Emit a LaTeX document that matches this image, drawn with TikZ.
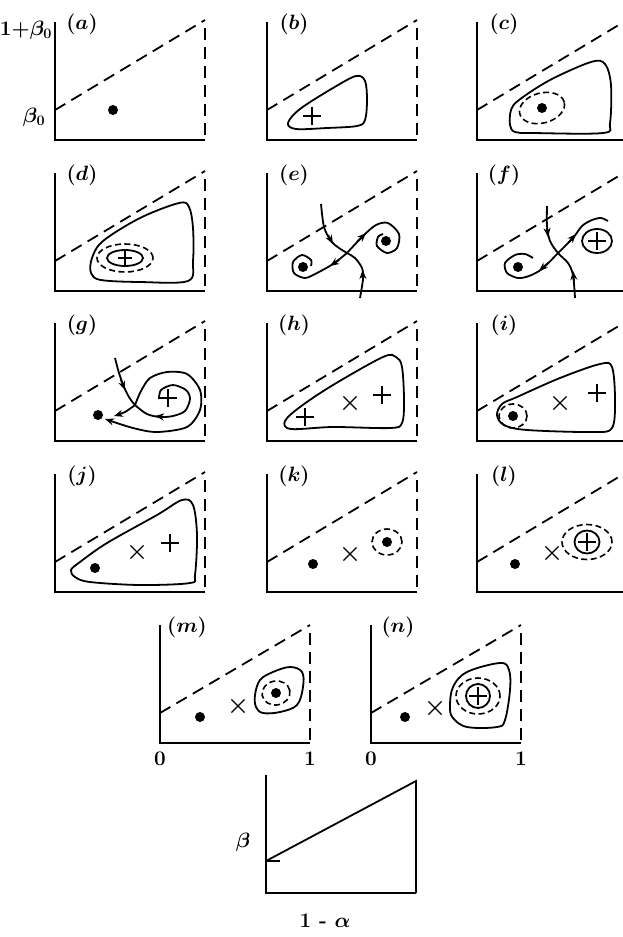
\documentclass[tikz,border=0pt]{standalone}
\usepackage{amsmath,amssymb}
\usepackage{bm}
\usetikzlibrary{arrows.meta, shapes.misc, positioning}
\tikzset{
  axisline/.style={line width=1.1pt},
  sepline/.style={line width=1.8pt, dash pattern=on 12pt off 7pt},
  orbit/.style={line width=1.8pt},
  ringdash/.style={line width=1.6pt, dash pattern=on 6pt off 3.5pt},
  dotmark/.style={circle, fill=black, inner sep=0pt, minimum size=10pt},
  crossmark/.style={cross out, draw, line width=1.2pt, inner sep=0pt, minimum size=12pt},
  plusmark/.style={crossmark, rotate=45, minimum size=11.5pt},
  plabel/.style={font=\fontsize{20.74}{24}\selectfont\boldmath},
  ticklabel/.style={font=\fontsize{20.74}{24}\selectfont\bfseries\boldmath},
  flowtip/.tip={Stealth[length=9pt,width=7pt]},
  flowhead/.style={orbit, -{flowtip}}
}
\newcommand{\panelaxes}[2]{%
  \draw[axisline] (0,118) -- (0,0) -- (150,0);
  \draw[sepline] (0,30) -- (150,#2);
  \draw[sepline] (150,#2-8) -- (150,0);
  \node[plabel] (lab#1) at (27,116) {$(#1)$};}

\begin{document}
\begin{tikzpicture}[x=1pt,y=1pt]
  \useasboundingbox (0,0) rectangle (623,-937);

  \begin{scope}[shift={(55,-140)}]
    \panelaxes{a}{120}
    \node[ticklabel] (topval) at (-29,110) {$1{+}\beta_0$};
    \node[ticklabel] (lowval) at (-21,23) {$\beta_0$};
    \node[dotmark] (a-dot) at (58,30) {};
  \end{scope}

  \begin{scope}[shift={(267,-140)}]
    \panelaxes{b}{120}
    \draw[orbit] plot[smooth cycle, tension=0.55] coordinates {(21,17) (33,31) (66,52) (89,64) (98,59) (100,40) (98,20) (90,14) (60,12) (29,11)};
    \node[plusmark] (b-plus) at (45,24) {};
  \end{scope}

  \begin{scope}[shift={(477,-140)}]
    \panelaxes{c}{120}
    \draw[orbit] plot[smooth cycle, tension=0.55] coordinates {(33,15) (34,30) (42,40) (73,60) (114,78) (128,76) (134,55) (133,17) (126,7) (56,7) (38,8)};
    \draw[ringdash, rotate around={15:(65,32)}] (65,32) ellipse [x radius=23, y radius=15];
    \node[dotmark] (c-dot) at (65,32) {};
  \end{scope}

  \begin{scope}[shift={(55,-291)}]
    \panelaxes{d}{120}
    \draw[orbit] plot[smooth cycle, tension=0.55] coordinates {(36,18) (37,33) (48,50) (85,73) (124,88) (134,84) (138,63) (138,30) (133,10) (85,9) (46,11)};
    \draw[ringdash] (70,33) ellipse [x radius=28, y radius=14];
    \draw[orbit] (70,33) ellipse [x radius=18, y radius=8];
    \node[plusmark, minimum size=9pt] (d-plus) at (70,33) {};
  \end{scope}

  \begin{scope}[shift={(267,-291)}]
    \panelaxes{e}{120}
    \draw[orbit] plot[smooth] coordinates {(54,87) (57,64) (64,50) (72,43) (80,38) (88,33) (95,23) (96,12) (93,-7)};
    \draw[orbit] plot[smooth] coordinates {(80,38) (66,27) (50,18) (38,13) (27,18) (26,29) (35,36) (44,31) (44,25)};
    \draw[orbit] plot[smooth] coordinates {(80,38) (96,55) (109,66) (121,68) (132,57) (130,43) (120,38) (110,45) (111,54) (116,57)};
    \draw[flowhead] (61,56) -- (66,47);
    \draw[flowhead] (96,10) -- (95.6,21);
    \draw[flowhead] (72,31) -- (63,25);
    \draw[flowhead] (90,49) -- (99,58);
    \node[dotmark] (e-dotl) at (36,24) {};
    \node[dotmark] (e-dotr) at (119,50) {};
  \end{scope}

  \begin{scope}[shift={(477,-291)}]
    \panelaxes{f}{120}
    \draw[orbit] plot[smooth] coordinates {(70,85) (70,65) (73,50) (81,38) (91,28) (96,16) (98,-7)};
    \draw[orbit] plot[smooth] coordinates {(81,38) (65,22) (52,15) (41,13) (30,18) (28,28) (38,36) (48,37) (56,33)};
    \draw[orbit] plot[smooth] coordinates {(81,38) (96,53) (105,65) (115,71) (124,73) (131,70)};
    \draw[flowhead] (70,63) -- (71,54);
    \draw[flowhead] (97,10) -- (96,20);
    \draw[flowhead] (71,28) -- (62,20);
    \draw[flowhead] (91,48) -- (99,57);
    \draw[orbit] (120,50) ellipse [x radius=15, y radius=12];
    \node[dotmark] (f-dot) at (41,24) {};
    \node[plusmark] (f-plus) at (120,50) {};
  \end{scope}

  \begin{scope}[shift={(55,-441)}]
    \panelaxes{g}{120}
    \draw[orbit] plot[smooth] coordinates {(60,83) (64,68) (69,54) (74,44) (80,36) (92,27) (105,24) (118,25) (130,30) (135,42) (131,51) (118,56) (106,51) (104,42)};
    \draw[flowhead] (66,61) -- (70,51);
    \draw[flowhead] (110,24) -- (100,25);
    \draw[flowhead] plot[smooth] coordinates {(80,36) (70,29) (59,25)};
    \draw[flowhead] plot[smooth] coordinates {(80,36) (86,50) (95,63) (112,69) (132,67) (145,51) (145,31) (132,14) (102,9) (78,13) (50,22)};
    \node[dotmark] (g-dot) at (43,26) {};
    \node[plusmark] (g-plus) at (113,43) {};
  \end{scope}

  \begin{scope}[shift={(267,-441)}]
    \panelaxes{h}{120}
    \draw[orbit] plot[smooth cycle, tension=0.55] coordinates {(18,20) (33,34) (66,56) (116,84) (129,84) (135,74) (137,41) (135,18) (123,13) (66,14) (24,12)};
    \node[plusmark] (h-plusl) at (38,24) {};
    \node[crossmark] (h-cross) at (83,38) {};
    \node[plusmark] (h-plusr) at (115,46) {};
  \end{scope}

  \begin{scope}[shift={(477,-441)}]
    \panelaxes{i}{120}
    \draw[orbit] plot[smooth cycle, tension=0.55] coordinates {(20,26) (25,37) (40,44) (83,63) (123,77) (135,74) (138,41) (135,13) (116,9) (50,11) (27,16)};
    \draw[ringdash] (36,25) ellipse [x radius=14, y radius=12];
    \node[dotmark] (i-dot) at (36,25) {};
    \node[crossmark] (i-cross) at (83,38) {};
    \node[plusmark] (i-plus) at (120,48) {};
  \end{scope}

  \begin{scope}[shift={(55,-592)}]
    \panelaxes{j}{120}
    \draw[orbit] plot[smooth cycle, tension=0.55] coordinates {(16,22) (25,30) (52,49) (102,77) (127,92) (138,87) (142,57) (140,17) (135,9) (85,7) (35,10) (20,15)};
    \node[dotmark] (j-dot) at (40,24) {};
    \node[crossmark] (j-cross) at (82,40) {};
    \node[plusmark] (j-plus) at (115,49) {};
  \end{scope}

  \begin{scope}[shift={(267,-592)}]
    \panelaxes{k}{120}
    \draw[ringdash] (120,50) ellipse [x radius=15, y radius=13];
    \node[dotmark] (k-dotl) at (46,28) {};
    \node[crossmark] (k-cross) at (83,38) {};
    \node[dotmark] (k-dotr) at (120,50) {};
  \end{scope}

  \begin{scope}[shift={(477,-592)}]
    \panelaxes{l}{120}
    \draw[ringdash] (110,50) ellipse [x radius=25, y radius=17.5];
    \draw[orbit] (110,50) ellipse [x radius=12.5, y radius=11.5];
    \node[dotmark] (l-dot) at (38,28) {};
    \node[crossmark] (l-cross) at (75,39) {};
    \node[plusmark] (l-plus) at (110,50) {};
  \end{scope}

  \begin{scope}[shift={(160,-743)}]
    \panelaxes{m}{118}
    \draw[orbit] plot[smooth cycle, tension=0.6] coordinates {(95,48) (100,63) (113,71) (130,76) (142,71) (143,56) (137,38) (120,31) (103,30) (96,36)};
    \draw[ringdash, rotate around={10:(116,50)}] (116,50) ellipse [x radius=14, y radius=12];
    \node[dotmark] (m-dotl) at (40,26) {};
    \node[crossmark] (m-cross) at (78,37) {};
    \node[dotmark] (m-dotr) at (116,50) {};
    \node[ticklabel] (m-zero) at (0,-16) {0};
    \node[ticklabel] (m-one) at (150,-16) {1};
  \end{scope}

  \begin{scope}[shift={(371,-743)}]
    \panelaxes{n}{118}
    \draw[orbit] plot[smooth cycle, tension=0.6] coordinates {(79,36) (82,56) (96,71) (129,80) (138,73) (139,53) (134,23) (126,16) (96,16) (82,25)};
    \draw[ringdash] (107,47) ellipse [x radius=22, y radius=18];
    \draw[orbit] (107,47) circle [radius=12];
    \node[dotmark] (n-dot) at (34,26) {};
    \node[crossmark] (n-cross) at (64,35) {};
    \node[plusmark] (n-plus) at (107,47) {};
    \node[ticklabel] (n-zero) at (0,-16) {0};
    \node[ticklabel] (n-one) at (150,-16) {1};
  \end{scope}

  \begin{scope}[shift={(266,-893)}]
    \draw[axisline] (0,118) -- (0,0) -- (150,0);
    \draw[orbit] (0,32) -- (150,112) -- (150,0);
    \draw[axisline] (0,32) -- (14,32);
    \node[ticklabel] (betalab) at (-23,51) {$\beta$};
    \node[ticklabel] (alphalab) at (59,-28) {1 - $\alpha$};
  \end{scope}
\end{tikzpicture}
\end{document}
